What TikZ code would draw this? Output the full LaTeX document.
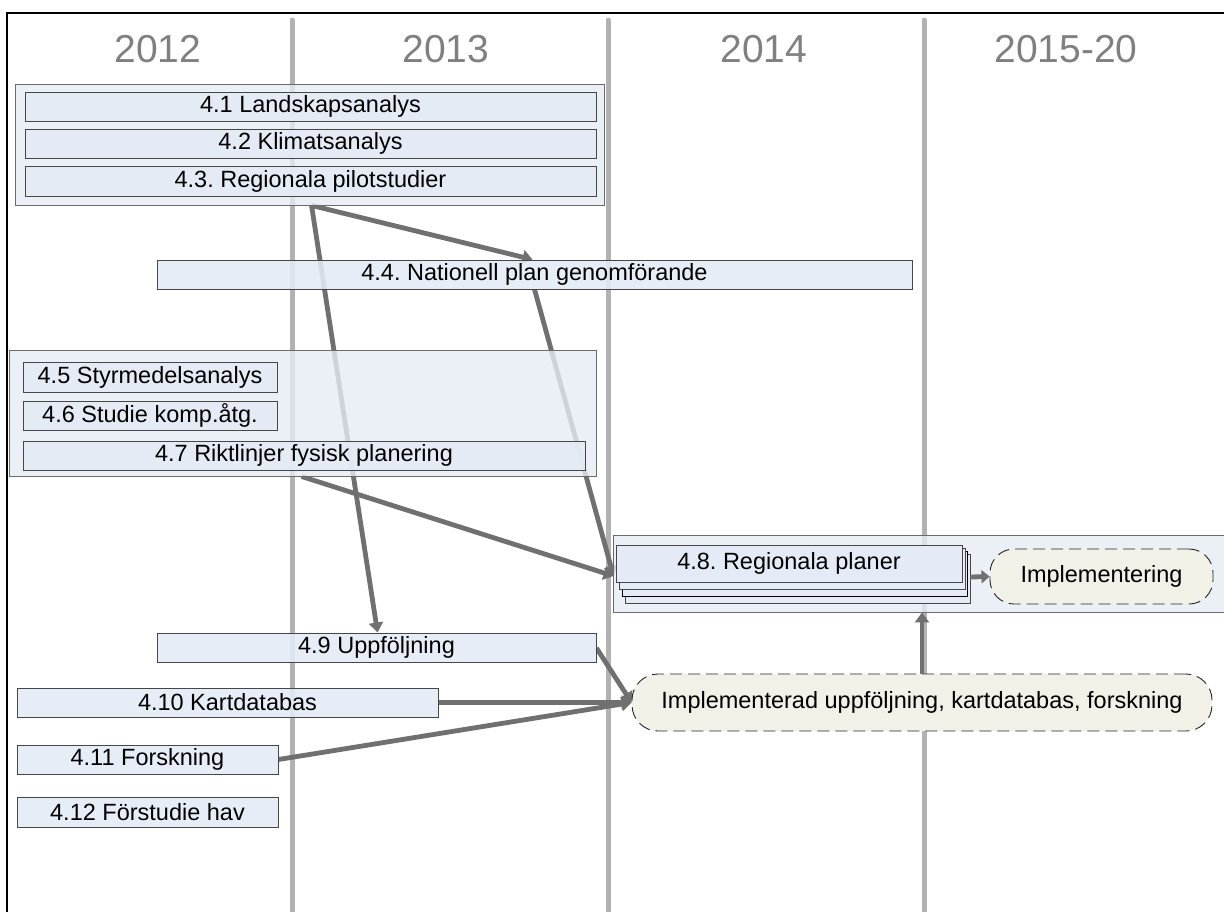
\documentclass[tikz,border=0pt]{standalone}
\usepackage{fontspec}
\setmainfont{Liberation Sans}
\frenchspacing
\usetikzlibrary{arrows.meta,calc}
\pgfdeclarelayer{background}
\pgfsetlayers{background,main}
\definecolor{yearline}{RGB}{178,178,178}
\definecolor{yeartext}{RGB}{128,128,128}
\definecolor{boxfill}{RGB}{228,235,246}
\definecolor{grpfill}{RGB}{230,236,245}
\definecolor{boxedge}{RGB}{70,70,70}
\definecolor{arrowcol}{RGB}{112,112,112}
\definecolor{ovalfill}{RGB}{241,241,232}
\tikzset{
  yearlbl/.style={text=yeartext, font=\fontsize{39}{42}\selectfont, inner sep=0pt},
  yearln/.style={draw=yearline, line width=5pt, line cap=round},
  grp/.style={draw=boxedge!80, fill=grpfill, fill opacity=0.8, text opacity=1, line width=0.9pt, inner sep=0pt},
  taskbox/.style={draw=boxedge, fill=boxfill, fill opacity=0.88, text opacity=1, line width=0.9pt, inner sep=0pt, font=\fontsize{23.5}{26}\selectfont},
  layerbox/.style={draw=boxedge, fill=boxfill, line width=0.9pt},
  oval/.style={draw=black!85, dash pattern=on 12pt off 6pt, fill=ovalfill, rounded corners=24pt, line width=0.9pt, inner sep=0pt, font=\fontsize{23.5}{26}\selectfont},
  flow/.style={draw=arrowcol, line width=4.8pt, -{Triangle[width=14pt,length=10pt]}},
}
\begin{document}
\begin{tikzpicture}[x=1pt,y=-1pt]
\useasboundingbox (0,0) rectangle (1224,911);
\clip (0,0) rectangle (1224,911);

% groups and task boxes
\node[grp, minimum width=589pt, minimum height=121pt] (g1) at (309.5,144.5) {};
\node[grp, minimum width=587pt, minimum height=126pt] (g2) at (302.5,413) {};
\node[grp, minimum width=617pt, minimum height=77pt] (g3) at (921.5,573.5) {};

\node[taskbox, minimum width=571pt, minimum height=29pt] (b41) at (310.5,106.5) {4.1 Landskapsanalys};
\node[taskbox, minimum width=571pt, minimum height=29pt] (b42) at (310.5,143.5) {4.2 Klimatsanalys};
\node[taskbox, minimum width=571pt, minimum height=30pt] (b43) at (310.5,181) {4.3. Regionala pilotstudier};
\node[taskbox, minimum width=755pt, minimum height=29pt] (b44) at (534.5,274.5) {4.4. Nationell plan genomförande};
\node[taskbox, minimum width=254pt, minimum height=30pt] (b45) at (150,377) {4.5 Styrmedelsanalys};
\node[taskbox, minimum width=254pt, minimum height=29pt] (b46) at (150,415.5) {4.6 Studie komp.åtg.};
\node[taskbox, minimum width=562pt, minimum height=29pt] (b47) at (304,455.5) {4.7 Riktlinjer fysisk planering};

% stacked 4.8
\draw[layerbox] (625,554) rectangle (970,603);
\draw[layerbox, draw=black] (622,551) rectangle (967,596);
\draw[layerbox] (619,548) rectangle (965,589);
\node[taskbox, fill opacity=1, minimum width=346pt, minimum height=37pt] (b48) at (789,563.5) {4.8. Regionala planer};
\node[oval, minimum width=223pt, minimum height=55pt] (impl) at (1101.5,576.5) {Implementering};

\node[taskbox, minimum width=439pt, minimum height=29pt] (b49) at (376.5,647.5) {4.9 Uppföljning};
\node[taskbox, minimum width=421pt, minimum height=29pt] (b410) at (227.5,702.5) {4.10 Kartdatabas};
\node[taskbox, minimum width=261pt, minimum height=29pt] (b411) at (147.5,759.5) {4.11 Forskning};
\node[taskbox, minimum width=261pt, minimum height=30pt] (b412) at (147.5,812) {4.12 Förstudie hav};
\node[oval, minimum width=580pt, minimum height=57pt, rounded corners=26pt] (implup) at (922,702.5) {Implementerad uppföljning, kartdatabas, forskning};

\coordinate (in48) at ([xshift=-2pt,yshift=-12.5pt]b48.west);

\begin{pgfonlayer}{background}
  % frame
  \draw[line width=1.5pt, black] (7,915) -- (7,13) -- (1230,13);
  % year columns
  \draw[yearln] (292,20) -- (292,915);
  \draw[yearln] (608,20) -- (608,915);
  \draw[yearln] (924,20) -- (924,915);
  \node[yearlbl] (y12) at (158,49) {2012};
  \node[yearlbl] (y13) at (446,49) {2013};
  \node[yearlbl] (y14) at (764,49) {2014};
  \node[yearlbl] (y15) at (1066,49) {2015-20};
  % connectors
  \draw[flow] ([xshift=297pt]g1.south west) -- ([xshift=376pt]b44.north west);
  \draw[flow] ([xshift=297pt]g1.south west) -- ([xshift=221pt]b49.north west);
  \draw[flow] ([xshift=378pt]b44.south west) -- (in48);
  \draw[flow] ([xshift=293pt]g2.south west) -- (in48);
  \draw[flow] ([yshift=-0.5pt]b49.east) -- (implup.west);
  \draw[flow] (b410.east) -- (implup.west);
  \draw[flow] (b411.east) -- (implup.west);
\end{pgfonlayer}

\draw[flow, -{Triangle[width=13pt,length=8pt]}] ([xshift=8pt,yshift=-13.5pt]b48.east) -- (impl.west);
\draw[flow] (implup.north) -- (implup.north |- g3.south);
\end{tikzpicture}
\end{document}
